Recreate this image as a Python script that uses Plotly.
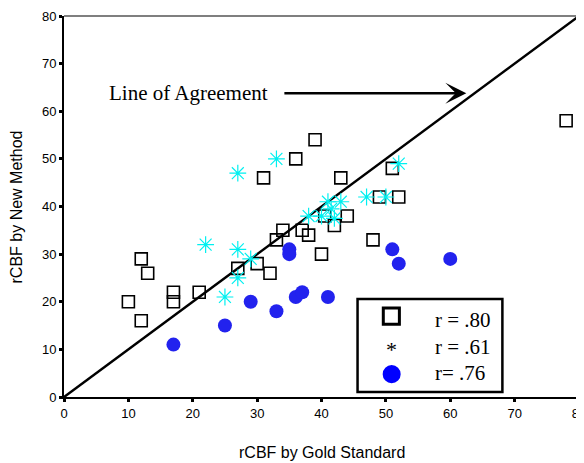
import plotly.graph_objects as go

# Open squares (r = .80)
sq_x = [10, 12, 13, 12, 17, 17, 21, 27, 30, 32, 33, 34, 37, 38, 40, 31, 36, 39, 43, 51, 78, 49, 52, 44, 42, 48, 40.5]
sq_y = [20, 29, 26, 16, 22, 20, 22, 27, 28, 26, 33, 35, 35, 34, 30, 46, 50, 54, 46, 48, 58, 42, 42, 38, 36, 33, 38]

# Cyan asterisks (r = .61)
ast_x = [22, 27, 29, 27, 25, 27, 33, 38, 40, 42, 41, 43, 41.5, 47, 50, 52]
ast_y = [32, 31, 29, 25, 21, 47, 50, 38, 38, 37.5, 41, 41, 39.5, 42, 42, 49]

# Blue dots (r = .76)
dot_x = [17, 25, 29, 33, 35, 35, 36, 37, 41, 51, 52, 60]
dot_y = [11, 15, 20, 18, 31, 30, 21, 22, 21, 31, 28, 29]

line_x = [0, 80]
line_y = [0, 80]

ticks = [0, 10, 20, 30, 40, 50, 60, 70, 80]
legend_labels = ["r = .80", "r = .61", "r= .76"]

fig = go.Figure()
fig.add_trace(go.Scatter(x=line_x, y=line_y, mode="lines",
                         line=dict(color="black", width=2.5), hoverinfo="skip"))
fig.add_trace(go.Scatter(x=sq_x, y=sq_y, mode="markers",
                         marker=dict(symbol="square-open", size=12, color="black",
                                     line=dict(width=1.6, color="black"))))
fig.add_trace(go.Scatter(x=ast_x, y=ast_y, mode="markers",
                         marker=dict(symbol="asterisk-open", size=14, color="#00f0f0",
                                     line=dict(width=1.2, color="#00f0f0"))))
fig.add_trace(go.Scatter(x=dot_x, y=dot_y, mode="markers",
                         marker=dict(symbol="circle", size=14, color="#2222ee",
                                     line=dict(width=0))))

axis_common = dict(range=[0, 80], tickvals=ticks, ticktext=[str(t) for t in ticks],
                   showgrid=False, zeroline=False, showline=True, linecolor="black",
                   linewidth=2, ticks="outside", ticklen=3, tickwidth=3, tickcolor="black",
                   automargin=False, ticklabeloverflow="allow",
                   tickfont=dict(family="Arial, Liberation Sans", size=13, color="black"))

fig.update_xaxes(**axis_common)
fig.update_yaxes(**axis_common)

shapes = [
    # top and right frame lines
    dict(type="line", xref="paper", yref="paper", x0=0, x1=1, y0=1, y1=1,
         line=dict(color="#555555", width=1.5)),
    dict(type="line", xref="paper", yref="paper", x0=1, x1=1, y0=0, y1=1,
         line=dict(color="black", width=1.5)),
    # legend box
    dict(type="rect", xref="x", yref="y", x0=45.6, x1=68.1, y0=1.05, y1=20.6,
         line=dict(color="black", width=2.5), fillcolor="white", layer="above"),
    # legend square glyph
    dict(type="rect", xref="x", yref="y", x0=49.6, x1=52.1, y0=15.3, y1=18.7,
         line=dict(color="black", width=3), layer="above"),
    # legend circle glyph
    dict(type="circle", xref="x", yref="y", x0=49.5, x1=52.3, y0=2.9, y1=6.7,
         line=dict(color="#0000ff", width=0), fillcolor="#0000ff", layer="above"),
]

serif = "Times New Roman, Liberation Serif"
sans = "Arial, Liberation Sans"
annotations = [
    dict(x=62.5, y=63.8, ax=34.0, ay=63.8, xref="x", yref="y", axref="x", ayref="y",
         showarrow=True, arrowhead=3, arrowsize=1.4, arrowwidth=2.5, arrowcolor="black", text=""),
    dict(x=19.3, y=63.8, xref="x", yref="y", text="Line of Agreement", showarrow=False,
         xanchor="center", yanchor="middle",
         font=dict(family=serif, size=21, color="black")),
    dict(x=50.85, y=10.0, xref="x", yref="y", text="*", showarrow=False,
         xanchor="center", yanchor="middle",
         font=dict(family=serif, size=22, color="black")),
    dict(x=0.5, y=-0.1444, xref="paper", yref="paper", text="rCBF by Gold Standard",
         xanchor="center", yanchor="middle",
         showarrow=False, font=dict(family=sans, size=16, color="black")),
    dict(x=-0.0913, y=0.5, xref="paper", yref="paper", text="rCBF by New Method",
         xanchor="center", yanchor="middle",
         showarrow=False, textangle=-90, font=dict(family=sans, size=16, color="black")),
]
for lab, yy in zip(legend_labels, [16.2, 10.5, 5.0]):
    annotations.append(dict(x=57.3, y=yy, xref="x", yref="y", text=lab, showarrow=False,
                            xanchor="left", yanchor="middle",
                            font=dict(family=serif, size=21, color="black")))

# page body adds an 8px offset, so the figure is 8px smaller and margins compensate
fig.update_layout(width=576, height=455, showlegend=False,
                  margin=dict(l=56, r=5, t=8, b=66),
                  plot_bgcolor="white", paper_bgcolor="white",
                  shapes=shapes, annotations=annotations)

fig.write_html("out.html")
